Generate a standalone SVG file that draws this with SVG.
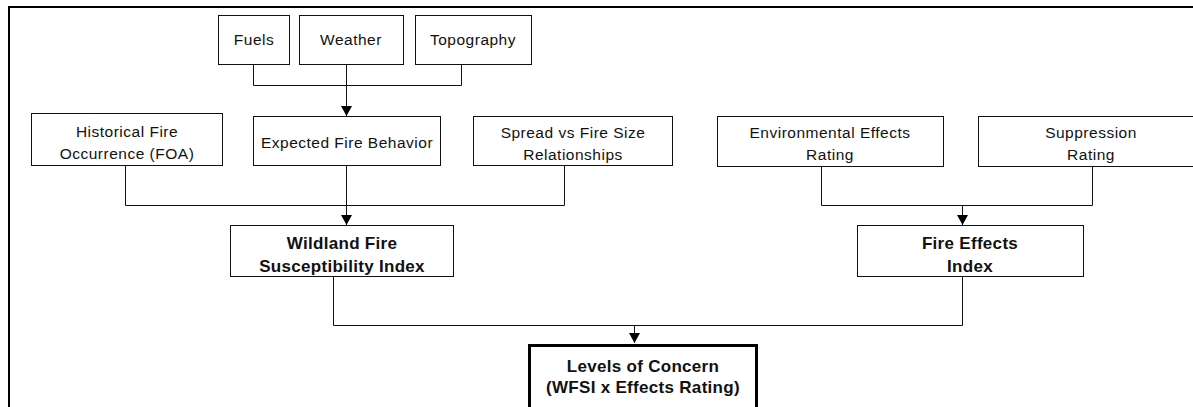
<svg xmlns="http://www.w3.org/2000/svg" width="1193" height="407" viewBox="0 0 1193 407">
<defs>
<style>
.box{fill:#fff;stroke:#111;stroke-width:1}
.t{font-family:"Liberation Sans",Arial,sans-serif;font-size:15.5px;letter-spacing:0.5px;fill:#111;text-anchor:middle}
.b{font-family:"Liberation Sans",Arial,sans-serif;font-size:17px;letter-spacing:0.3px;font-weight:bold;fill:#111;text-anchor:middle}
.c{fill:none;stroke:#111;stroke-width:1}
</style>
<marker id="ah" markerUnits="userSpaceOnUse" markerWidth="10" markerHeight="11" viewBox="0 0 10 11" refX="10" refY="5.5" orient="auto">
<path d="M0,0 L10,5.5 L0,11 z" fill="#000"/>
</marker>
</defs>
<rect width="1193" height="407" fill="#fff"/>
<path d="M9,420 V7 H1200" fill="none" stroke="#000" stroke-width="2"/>

<g id="connectors">
<path class="c" d="M253.5,64 V85.5 H461.5 V64"/>
<path class="c" d="M346.5,64 V116" marker-end="url(#ah)"/>
<path class="c" d="M125.5,165 V205.5 H564.5 V165"/>
<path class="c" d="M346.5,165 V225" marker-end="url(#ah)"/>
<path class="c" d="M821.5,166 V205.5 H1092.5 V166"/>
<path class="c" d="M962.5,205 V225" marker-end="url(#ah)"/>
<path class="c" d="M333.5,276 V325.5 H962.5 V276"/>
<path class="c" d="M634.5,325 V343" marker-end="url(#ah)"/>
</g>

<g id="fuels"><rect class="box" x="218.5" y="15.5" width="71" height="49"/><text class="t" x="254" y="45">Fuels</text></g>
<g id="weather"><rect class="box" x="299.5" y="15.5" width="104" height="49"/><text class="t" x="351" y="45">Weather</text></g>
<g id="topography"><rect class="box" x="415.5" y="15.5" width="116" height="49"/><text class="t" x="473" y="45">Topography</text></g>

<g id="historical"><rect class="box" x="31.5" y="113.5" width="191" height="52"/><text class="t" x="127" y="137">Historical Fire</text><text class="t" x="127" y="159">Occurrence (FOA)</text></g>
<g id="expected"><rect class="box" x="253.5" y="116.5" width="187" height="49"/><text class="t" x="347" y="148">Expected Fire Behavior</text></g>
<g id="spread"><rect class="box" x="473.5" y="116.5" width="199" height="49"/><text class="t" x="573" y="138">Spread vs Fire Size</text><text class="t" x="573" y="160">Relationships</text></g>
<g id="environmental"><rect class="box" x="717.5" y="116.5" width="226" height="50"/><text class="t" x="830" y="138">Environmental Effects</text><text class="t" x="830" y="160">Rating</text></g>
<g id="suppression"><rect class="box" x="978.5" y="116.5" width="226" height="50"/><text class="t" x="1091" y="138">Suppression</text><text class="t" x="1091" y="160">Rating</text></g>

<g id="wfsi"><rect class="box" x="230.5" y="225.5" width="223" height="51"/><text class="b" x="342" y="249">Wildland Fire</text><text class="b" x="342" y="272">Susceptibility Index</text></g>
<g id="fire-effects"><rect class="box" x="857.5" y="225.5" width="226" height="51"/><text class="b" x="970" y="249">Fire Effects</text><text class="b" x="970" y="272">Index</text></g>

<g id="levels"><rect x="529.5" y="345.5" width="227" height="80" fill="#fff" stroke="#000" stroke-width="3"/><text class="b" x="643" y="372">Levels of Concern</text><text class="b" x="643" y="393">(WFSI x Effects Rating)</text></g>
</svg>
